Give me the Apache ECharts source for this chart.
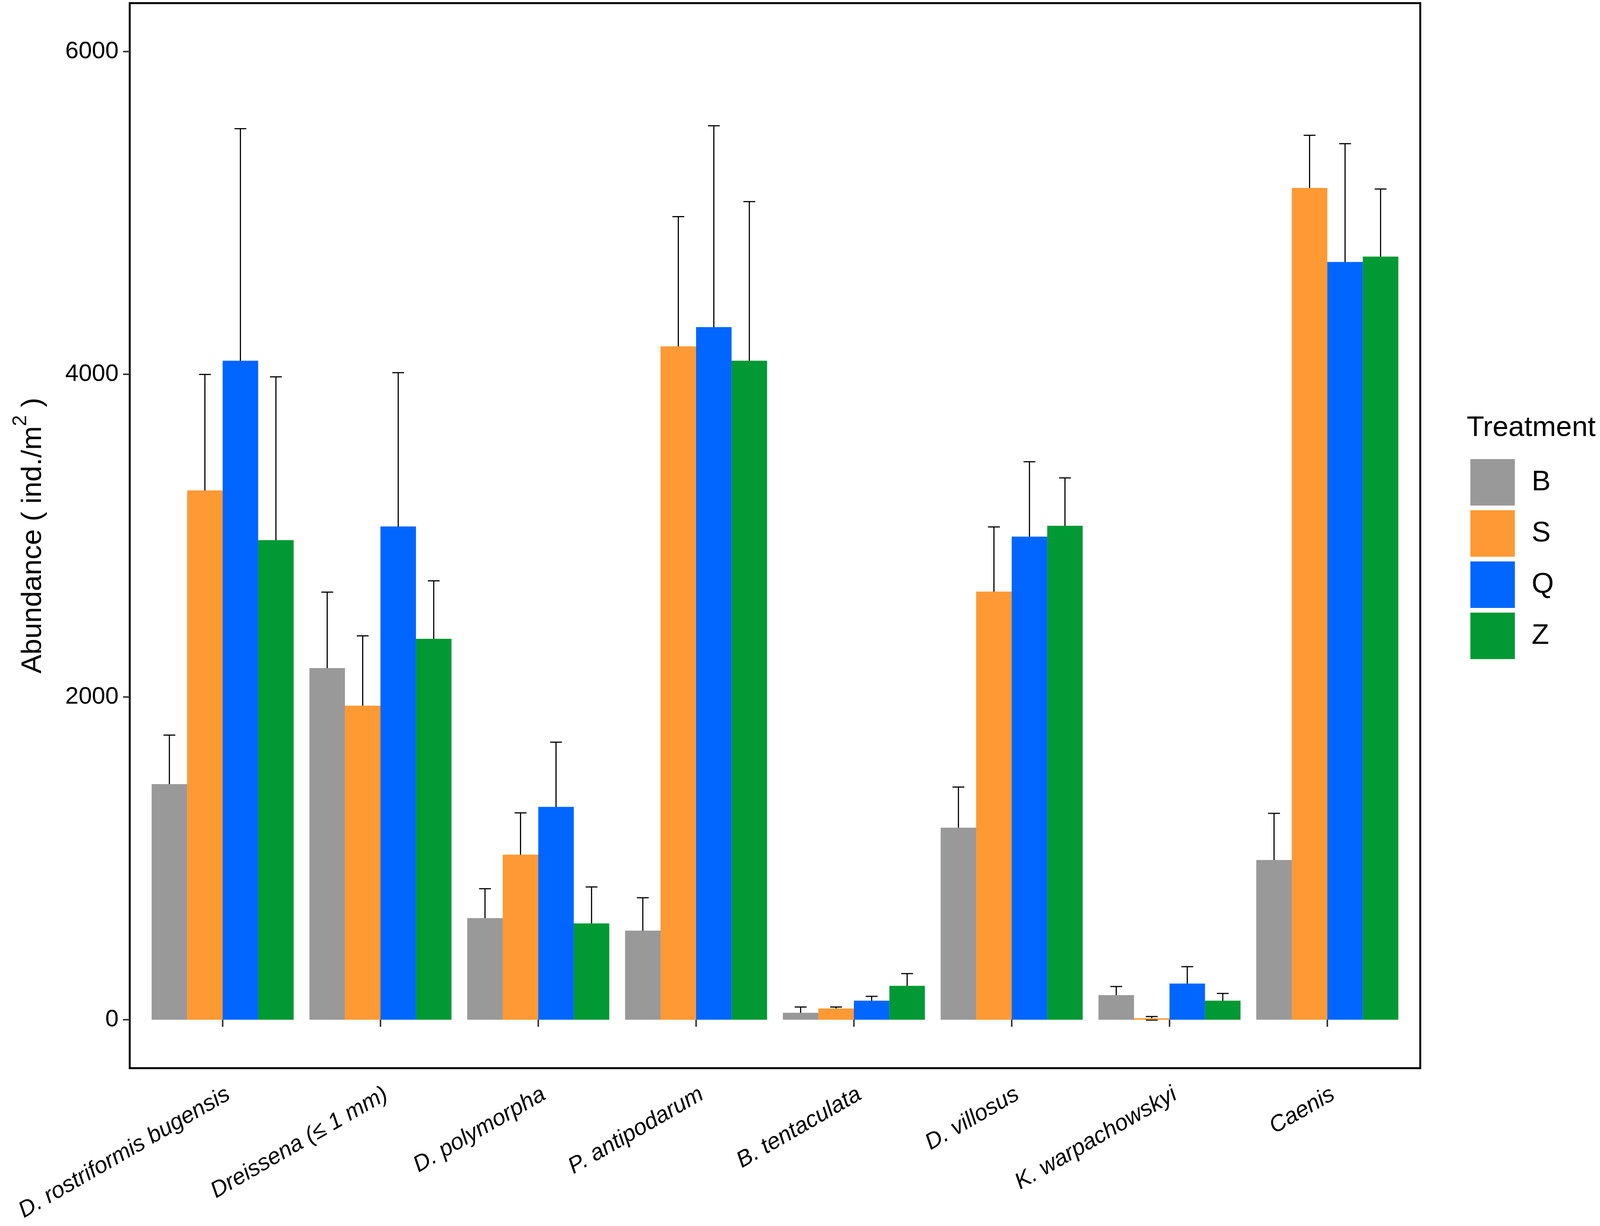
<!DOCTYPE html>
<html>
<head>
<meta charset="utf-8">
<title>Abundance by treatment</title>
<script src="https://cdn.jsdelivr.net/npm/echarts@6/dist/echarts.min.js"></script>
<style>
  html, body { margin: 0; padding: 0; background: #fff; overflow: hidden; }
  #chart { width: 100vw; height: 100vh; }
</style>
</head>
<body>
<div id="chart"></div>
<script>
// Taxa on the x axis
const taxa = [
    'D. rostriformis bugensis',
    'Dreissena (\u2264 1 mm)',
    'D. polymorpha',
    'P. antipodarum',
    'B. tentaculata',
    'D. villosus',
    'K. warpachowskyi',
    'Caenis'
];

const treatments = ['B', 'S', 'Q', 'Z'];
const colors = ['#999999', '#FF9933', '#0066FF', '#009933'];

// Mean abundance (ind./m2) per treatment
const meanB = [1460, 2179, 630, 552, 43, 1190, 153, 990];
const meanS = [3280, 1946, 1023, 4173, 70, 2653, 9, 5155];
const meanQ = [4084, 3057, 1319, 4292, 118, 2994, 224, 4696];
const meanZ = [2972, 2361, 597, 4084, 210, 3061, 118, 4729];

// Standard error per treatment
const seB = [304, 471, 182, 204, 36, 252, 53, 289];
const seS = [719, 433, 259, 804, 9, 401, 11, 326];
const seQ = [1438, 953, 401, 1248, 27, 464, 105, 733];
const seZ = [1012, 359, 226, 986, 76, 297, 45, 419];

const yTicks = [0, 2000, 4000, 6000];

const FONT = '"Liberation Sans", Arial, sans-serif';
const means = [meanB, meanS, meanQ, meanZ];
const ses = [seB, seS, seQ, seZ];

// layout was measured on a 4317 x 3138 picture; scale it to the real viewport
const dom = document.getElementById('chart');
const W = dom.clientWidth || window.innerWidth;
const H = dom.clientHeight || window.innerHeight;
const sx = W / 4317;
const sy = H / 3138;
const s = Math.min(sy, Math.sqrt(sx * sy));

// panel of the ggplot figure, and the band area inside it (0.6 category padding)
const panel = { left: 350 * sx, right: 3832 * sx, top: 8 * sy, bottom: 2734 * sy };
const unit = (panel.right - panel.left) / (taxa.length + 1.2);
const pad = unit * 0.1;

// error bars: one row per bar
const errData = [];
means.forEach(function (m, k) {
    m.forEach(function (v, i) {
        errData.push([i, v, ses[k][i], k]);
    });
});

function renderErr(params, api) {
    const cat = api.value(0);
    const mean = api.value(1);
    const se = api.value(2);
    const k = api.value(3);
    const band = api.size([1, 0])[0];
    const barW = band * 0.9 / 4;
    const cap = band * 0.0375;
    const hi = api.coord([cat, mean + se]);
    const lo = api.coord([cat, mean - se]);
    const x = hi[0] + (k - 1.5) * barW;
    const st = { stroke: '#000', lineWidth: 3 * s };
    return {
        type: 'group',
        children: [
            { type: 'line', shape: { x1: x, y1: lo[1], x2: x, y2: hi[1] }, style: st },
            { type: 'line', shape: { x1: x - cap, y1: hi[1], x2: x + cap, y2: hi[1] }, style: st },
            { type: 'line', shape: { x1: x - cap, y1: lo[1], x2: x + cap, y2: lo[1] }, style: st }
        ]
    };
}

const chart = echarts.init(dom);

const option = {
    backgroundColor: '#fff',
    animation: false,
    title: {
        text: 'Treatment',
        left: 3952 * sx,
        top: 1054 * sy,
        textStyle: { fontFamily: FONT, fontSize: 75 * s, fontWeight: 'normal', color: '#000' }
    },
    legend: {
        data: treatments,
        orient: 'vertical',
        left: 3962 * sx,
        top: 1170 * sy,
        icon: 'rect',
        itemWidth: 120 * sx,
        itemHeight: 119 * sy,
        itemGap: 12 * sy,
        selectedMode: false,
        textStyle: { fontFamily: FONT, fontSize: 75 * s, color: '#000', padding: [0, 0, 0, 40 * sx] }
    },
    grid: [
        {
            left: panel.left + pad,
            right: W - panel.right + pad,
            top: panel.top,
            bottom: H - panel.bottom,
            show: false
        },
        {
            left: panel.left,
            width: panel.right - panel.left,
            top: panel.top,
            height: panel.bottom - panel.top,
            show: true,
            borderColor: '#000',
            borderWidth: 5 * s,
            backgroundColor: 'rgba(0,0,0,0)'
        }
    ],
    xAxis: [
        {
            type: 'category',
            gridIndex: 0,
            data: taxa,
            axisLine: { show: false },
            axisTick: { show: true, alignWithLabel: true, length: 18 * sy, lineStyle: { color: '#333', width: 4 * s } },
            axisLabel: {
                interval: 0,
                rotate: 30,
                align: 'right',
                verticalAlign: 'top',
                margin: 38 * sy,
                fontFamily: FONT,
                fontStyle: 'italic',
                fontSize: 60 * s,
                color: '#000'
            },
            splitLine: { show: false }
        },
        { type: 'value', gridIndex: 1, show: false }
    ],
    yAxis: [
        {
            type: 'value',
            gridIndex: 0,
            min: -300,
            max: 6300,
            offset: pad,
            axisLine: { show: false },
            axisTick: { show: true, length: 18 * sx, customValues: yTicks, lineStyle: { color: '#333', width: 4 * s } },
            axisLabel: {
                customValues: yTicks,
                formatter: function (v) { return String(v); },
                margin: 30 * sx,
                fontFamily: FONT,
                fontSize: 63 * s,
                color: '#000'
            },
            splitLine: { show: false },
            name: '{a|Abundance ( ind./m}{s|2}{a| )}',
            nameLocation: 'middle',
            nameRotate: 90,
            nameGap: 222 * sx,
            nameTextStyle: {
                rich: {
                    a: { fontFamily: FONT, fontSize: 75 * s, color: '#000', lineHeight: 96 * s, verticalAlign: 'bottom' },
                    s: { fontFamily: FONT, fontSize: 52 * s, color: '#000', lineHeight: 96 * s, verticalAlign: 'top' }
                }
            }
        },
        { type: 'value', gridIndex: 1, show: false }
    ],
    series: treatments.map(function (name, k) {
        return {
            name: name,
            type: 'bar',
            xAxisIndex: 0,
            yAxisIndex: 0,
            data: means[k],
            barGap: '0%',
            barCategoryGap: '10%',
            itemStyle: { color: colors[k] },
            z: 3
        };
    }).concat([{
        name: 'error',
        type: 'custom',
        xAxisIndex: 0,
        yAxisIndex: 0,
        renderItem: renderErr,
        data: errData,
        encode: { x: 0, y: 1 },
        z: 1,
        silent: true
    }])
};

chart.setOption(option);
</script>
</body>
</html>
